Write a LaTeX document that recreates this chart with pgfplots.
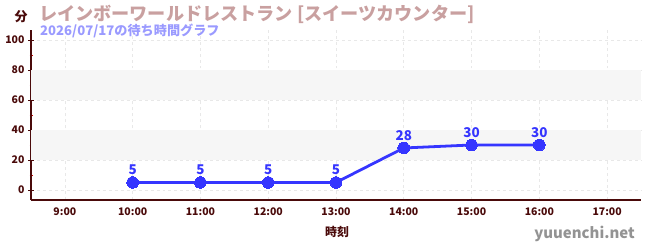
\documentclass[border=0pt]{standalone}
\usepackage{pgfplots}
\pgfplotsset{compat=1.18}
\usepackage{fontspec}
\setmainfont{Noto Sans CJK JP}
\definecolor{maroon}{HTML}{4A0A0A}
\definecolor{titlec}{HTML}{C9A0A0}
\definecolor{subc}{HTML}{9A9AFF}
\definecolor{linec}{HTML}{3535FF}
\definecolor{gridc}{HTML}{E8E8E8}
\definecolor{bandc}{HTML}{F6F6F6}
\begin{document}
\begin{tikzpicture}[x=1bp,y=1bp]
\path[use as bounding box] (0,0) rectangle (650,250);
\begin{axis}[
  at={(31bp,50bp)}, anchor=south west,
  scale only axis, width=610bp, height=170bp,
  xmin=8.5, xmax=17.5, ymin=-6.7, ymax=106.7,
  axis x line*=bottom, axis y line*=left,
  axis line style={maroon, line width=1.2pt, -},
  xtick={9,...,17},
  xticklabels={9:00,10:00,11:00,12:00,13:00,14:00,15:00,16:00,17:00},
  ytick={0,20,...,100},
  minor ytick={10,30,50,70,90},
  major tick length=6bp, minor tick length=3bp,
  tick align=center,
  every tick/.style={maroon, line width=0.8pt},
  minor tick style={red!80!black, line width=0.8pt},
  xtick style={draw=none},
  grid=major,
  major grid style={gridc, dashed, line width=0.6pt},
  /pgf/number format/assume math mode=true,
  tick label style={font=\fontsize{10.5}{12}\selectfont\bfseries, text=maroon},
  xticklabel style={yshift=-1bp},
  clip=false,
  axis on top=false,
]
\addplot[fill=bandc, draw=none] coordinates {(8.5,20)(17.5,20)(17.5,40)(8.5,40)} -- cycle;
\addplot[fill=bandc, draw=none] coordinates {(8.5,60)(17.5,60)(17.5,80)(8.5,80)} -- cycle;
\addplot[linec, line width=2.8pt, mark=*, mark size=5.8bp, mark options={fill=linec, draw=linec, line width=0pt},
  nodes near coords, every node near coord/.style={font=\fontsize{13.5}{15}\selectfont\bfseries, text=linec, anchor=south, yshift=4bp}]
  coordinates {(10,5)(11,5)(12,5)(13,5)(14,28)(15,30)(16,30)};
\end{axis}
\node[anchor=west, text=maroon, font=\fontsize{13}{15}\selectfont\bfseries] at (11,233) {分};
\node[anchor=west, text=titlec, font=\fontsize{18.2}{20}\selectfont\bfseries, inner sep=0pt] at (39,236) {レインボーワールドレストラン [スイーツカウンター]};
\node[anchor=west, text=subc, font=\fontsize{13.2}{15}\selectfont\bfseries, inner sep=0pt] at (40,219) {2026/07/17の待ち時間グラフ};
\node[text=maroon, font=\fontsize{12}{14}\selectfont\bfseries] at (337,18) {時刻};
\node[anchor=east, text=gray!85, font=\fontsize{15}{17}\selectfont\bfseries, inner sep=0pt] at (635,16) {yuuenchi.net};
\end{tikzpicture}
\end{document}
